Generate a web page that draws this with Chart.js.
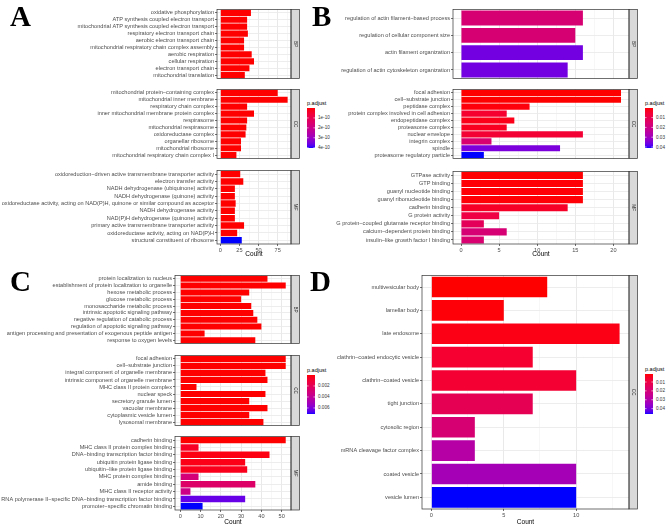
<!DOCTYPE html>
<html>
<head>
<meta charset="utf-8">
<script src="https://cdn.jsdelivr.net/npm/chart.js@4"></script>
<style>
  body { margin: 0; background: #fff; }
  #root { position: relative; width: 669px; height: 528px; overflow: hidden; font-family: 'Liberation Sans', Arial, sans-serif; }
  .tag { position: absolute; font-family: 'Liberation Serif', 'Times New Roman', serif; font-weight: bold; font-size: 29px; line-height: 29px; color: #000; }
  .lgt { position: absolute; font-size: 5.5px; line-height: 6px; color: #000; white-space: nowrap; }
  .lgl { position: absolute; font-size: 4.6px; line-height: 5px; color: #333; white-space: nowrap; }
</style>
</head>
<body>
<div id="root"></div>
<script>
// ---- data: panel A ----
const termsA_BP = ['oxidative phosphorylation', 'ATP synthesis coupled electron transport', 'mitochondrial ATP synthesis coupled electron transport', 'respiratory electron transport chain', 'aerobic electron transport chain', 'mitochondrial respiratory chain complex assembly', 'aerobic respiration', 'cellular respiration', 'electron transport chain', 'mitochondrial translation'];
const countA_BP = [40, 35, 35, 36, 31, 31, 41, 44, 38, 32];
const padjA_BP = [1e-20, 1e-20, 1e-20, 1e-20, 1e-20, 1e-20, 1e-20, 1e-20, 1e-20, 1e-20];
const termsA_CC = ['mitochondrial protein\u2212containing complex', 'mitochondrial inner membrane', 'respiratory chain complex', 'inner mitochondrial membrane protein complex', 'respirasome', 'mitochondrial respirasome', 'oxidoreductase complex', 'organellar ribosome', 'mitochondrial ribosome', 'mitochondrial respiratory chain complex I'];
const countA_CC = [75, 88, 35, 44, 35, 34, 33, 27, 27, 21];
const padjA_CC = [1e-20, 1e-20, 1e-20, 1e-20, 1e-20, 1e-20, 1e-20, 1e-20, 1e-20, 1e-20];
const termsA_MF = ['oxidoreduction\u2212driven active transmembrane transporter activity', 'electron transfer activity', 'NADH dehydrogenase (ubiquinone) activity', 'NADH dehydrogenase (quinone) activity', 'oxidoreductase activity, acting on NAD(P)H, quinone or similar compound as acceptor', 'NADH dehydrogenase activity', 'NAD(P)H dehydrogenase (quinone) activity', 'primary active transmembrane transporter activity', 'oxidoreductase activity, acting on NAD(P)H', 'structural constituent of ribosome'];
const countA_MF = [26, 30, 19, 19, 20, 19, 19, 31, 22, 28];
const padjA_MF = [1e-20, 1e-20, 1e-20, 1e-20, 1e-20, 1e-20, 1e-20, 1e-20, 1e-20, 4.03e-10];
const ticksA = [0, 25, 50, 75];
const legendA = [1e-10, 2e-10, 3e-10, 4e-10];

// ---- data: panel B ----
const termsB_BP = ['regulation of actin filament\u2212based process', 'regulation of cellular component size', 'actin filament organization', 'regulation of actin cytoskeleton organization'];
const countB_BP = [16, 15, 16, 14];
const padjB_BP = [0.0165, 0.0165, 0.036, 0.036];
const termsB_CC = ['focal adhesion', 'cell\u2212substrate junction', 'peptidase complex', 'protein complex involved in cell adhesion', 'endopeptidase complex', 'proteasome complex', 'nuclear envelope', 'integrin complex', 'spindle', 'proteasome regulatory particle'];
const countB_CC = [21, 21, 9, 6, 7, 6, 16, 4, 13, 3];
const padjB_CC = [0.0002, 0.0002, 0.001, 0.005, 0.002, 0.003, 0.006, 0.016, 0.035, 0.041];
const termsB_MF = ['GTPase activity', 'GTP binding', 'guanyl nucleotide binding', 'guanyl ribonucleotide binding', 'cadherin binding', 'G protein activity', 'G protein\u2212coupled glutamate receptor binding', 'calcium\u2212dependent protein binding', 'insulin\u2212like growth factor I binding'];
const countB_MF = [16, 16, 16, 16, 14, 5, 3, 6, 3];
const padjB_MF = [0.0003, 0.0005, 0.0005, 0.0005, 0.004, 0.008, 0.012, 0.017, 0.016];
const ticksB = [0, 5, 10, 15, 20];
const legendB = [0.01, 0.02, 0.03, 0.04];

// ---- data: panel C ----
const termsC_BP = ['protein localization to nucleus', 'establishment of protein localization to organelle', 'hexose metabolic process', 'glucose metabolic process', 'monosaccharide metabolic process', 'intrinsic apoptotic signaling pathway', 'negative regulation of catabolic process', 'regulation of apoptotic signaling pathway', 'antigen processing and presentation of exogenous peptide antigen', 'response to oxygen levels'];
const countC_BP = [43, 52, 34, 30, 35, 36, 38, 40, 12, 37];
const padjC_BP = [1e-6, 1e-6, 1e-6, 1e-6, 1e-6, 1e-6, 1e-6, 1e-6, 1e-6, 1e-6];
const termsC_CC = ['focal adhesion', 'cell\u2212substrate junction', 'integral component of organelle membrane', 'intrinsic component of organelle membrane', 'MHC class II protein complex', 'nuclear speck', 'secretory granule lumen', 'vacuolar membrane', 'cytoplasmic vesicle lumen', 'lysosomal membrane'];
const countC_CC = [52, 52, 42, 43, 8, 42, 34, 43, 34, 41];
const padjC_CC = [1e-6, 1e-6, 1e-6, 1e-6, 1e-6, 1e-6, 1e-6, 1e-6, 1e-6, 1e-6];
const termsC_MF = ['cadherin binding', 'MHC class II protein complex binding', 'DNA\u2212binding transcription factor binding', 'ubiquitin protein ligase binding', 'ubiquitin\u2212like protein ligase binding', 'MHC protein complex binding', 'amide binding', 'MHC class II receptor activity', 'RNA polymerase II\u2212specific DNA\u2212binding transcription factor binding', 'promoter\u2212specific chromatin binding'];
const countC_MF = [52, 9, 44, 32, 33, 9, 37, 5, 32, 11];
const padjC_MF = [1e-6, 0.0006, 0.0002, 0.0003, 0.0004, 0.003, 0.0025, 0.0035, 0.0064, 0.0071];
const ticksC = [0, 10, 20, 30, 40, 50];
const legendC = [0.002, 0.004, 0.006];

// ---- data: panel D ----
const termsD_CC = ['multivesicular body', 'lamellar body', 'late endosome', 'clathrin\u2212coated endocytic vesicle', 'clathrin\u2212coated vesicle', 'tight junction', 'cytosolic region', 'mRNA cleavage factor complex', 'coated vesicle', 'vesicle lumen'];
const countD_CC = [8, 5, 13, 7, 10, 7, 3, 3, 10, 10];
const padjD_CC = [0.001, 0.0015, 0.0028, 0.0064, 0.0069, 0.0132, 0.019, 0.029, 0.0325, 0.046];
const ticksD = [0, 5, 10];
const legendD = [0.01, 0.02, 0.03, 0.04];

const FONT = "'Liberation Sans', Arial, sans-serif";
Chart.defaults.font.family = FONT;
const root = document.getElementById('root');

// red -> blue in CIELAB, like ggplot's continuous fill scale
function toLin(c) { c /= 255; return c <= 0.04045 ? c / 12.92 : Math.pow((c + 0.055) / 1.055, 2.4); }
function fromLin(c) { c = c <= 0.0031308 ? 12.92 * c : 1.055 * Math.pow(c, 1 / 2.4) - 0.055; return Math.round(Math.max(0, Math.min(1, c)) * 255); }
function rgb2lab(rgb) {
    const [r, g, b] = rgb.map(toLin);
    const x = (0.4124 * r + 0.3576 * g + 0.1805 * b) / 0.95047;
    const y = 0.2126 * r + 0.7152 * g + 0.0722 * b;
    const z = (0.0193 * r + 0.1192 * g + 0.9505 * b) / 1.08883;
    const f = t => t > 0.008856 ? Math.cbrt(t) : 7.787 * t + 16 / 116;
    return [116 * f(y) - 16, 500 * (f(x) - f(y)), 200 * (f(y) - f(z))];
}
function lab2rgb([L, a, bb]) {
    const fy = (L + 16) / 116, fx = fy + a / 500, fz = fy - bb / 200;
    const fi = t => t * t * t > 0.008856 ? t * t * t : (t - 16 / 116) / 7.787;
    const x = 0.95047 * fi(fx), y = fi(fy), z = 1.08883 * fi(fz);
    const r = 3.2406 * x - 1.5372 * y - 0.4986 * z;
    const g = -0.9689 * x + 1.8758 * y + 0.0415 * z;
    const b = 0.0557 * x - 0.2040 * y + 1.0570 * z;
    return `rgb(${fromLin(r)},${fromLin(g)},${fromLin(b)})`;
}
const LAB_LO = rgb2lab([255, 0, 0]);
const LAB_HI = rgb2lab([0, 0, 255]);
function makeScale(lists) {
    const all = lists.flat();
    const min = Math.min(...all), max = Math.max(...all);
    const fn = v => {
        const t = Math.max(0, Math.min(1, (v - min) / (max - min)));
        return lab2rgb(LAB_LO.map((c, i) => c + (LAB_HI[i] - c) * t));
    };
    fn.min = min; fn.max = max;
    return fn;
}

const framePlugin = {
    id: 'frame',
    afterDraw(chart, args, opts) {
        const { ctx, chartArea: ca } = chart;
        ctx.save();
        ctx.fillStyle = '#d9d9d9';
        ctx.strokeStyle = '#333';
        ctx.lineWidth = 0.7;
        ctx.fillRect(ca.right, ca.top, opts.stripW, ca.height);
        ctx.strokeRect(ca.right, ca.top, opts.stripW, ca.height);
        ctx.strokeRect(ca.left, ca.top, ca.width, ca.height);
        ctx.translate(ca.right + opts.stripW / 2, ca.top + ca.height / 2);
        ctx.rotate(Math.PI / 2);
        ctx.fillStyle = '#1a1a1a';
        ctx.font = '4.6px ' + FONT;
        ctx.textAlign = 'center';
        ctx.textBaseline = 'middle';
        ctx.fillText(opts.label, 0, 0);
        ctx.restore();
    }
};

function facetChart(p, f, top, bottom, isLast, color) {
    const axisH = isLast ? p.axisH : 0;
    const w = Math.ceil(p.stripRight) + 1 - p.left;
    const h = Math.round(bottom - top) + axisH;
    const cv = document.createElement('canvas');
    cv.width = w; cv.height = h;
    cv.style.cssText = `position:absolute;left:${p.left}px;top:${top}px;width:${w}px;height:${h}px`;
    root.appendChild(cv);

    const n = f.terms.length;
    const step = p.ticks[1] - p.ticks[0];
    const lo = -0.05 * p.xMax, hi = 1.05 * p.xMax;
    const minor = [];
    for (let v = step / 2; v < hi; v += step) minor.push(v);
    const allTicks = p.ticks.concat(minor).filter(v => v >= lo && v <= hi);
    const isMajor = v => p.ticks.includes(v);

    new Chart(cv, {
        type: 'bar',
        data: {
            labels: f.terms,
            datasets: [{
                data: f.counts,
                backgroundColor: f.padj.map(color),
                barPercentage: 0.9 * n / (n + 0.2),
                categoryPercentage: 1
            }]
        },
        options: {
            indexAxis: 'y',
            responsive: false,
            animation: false,
            events: [],
            layout: { padding: { left: 0, top: 0, bottom: 0, right: w - (p.plotRight - p.left) } },
            plugins: {
                legend: { display: false },
                tooltip: { enabled: false },
                frame: { stripW: p.stripRight - p.plotRight, label: f.strip }
            },
            scales: {
                x: {
                    type: 'linear', min: lo, max: hi,
                    afterBuildTicks: s => { s.ticks = allTicks.map(v => ({ value: v })); },
                    afterFit: s => { s.height = axisH; },
                    ticks: {
                        display: isLast, autoSkip: false, maxRotation: 0, padding: 1,
                        font: { size: 5.6 }, color: '#4d4d4d',
                        callback: v => isMajor(v) ? String(v) : ''
                    },
                    grid: {
                        drawTicks: isLast, tickLength: 2,
                        color: c => isMajor(c.tick.value) ? '#e6e6e6' : '#f2f2f2',
                        lineWidth: c => isMajor(c.tick.value) ? 0.9 : 0.6,
                        tickColor: c => isMajor(c.tick.value) ? '#333' : 'rgba(0,0,0,0)',
                        tickWidth: 0.7
                    },
                    border: { display: false },
                    title: { display: isLast, text: 'Count', font: { size: 6.5 }, color: '#000', padding: { top: 0, bottom: 0 } }
                },
                y: {
                    afterFit: s => { s.width = p.plotLeft - p.left; },
                    ticks: { autoSkip: false, padding: 1, font: { size: 5.6 }, color: '#4d4d4d' },
                    grid: { offset: false, color: '#ebebeb', lineWidth: 0.9, tickLength: 2, tickColor: '#333', tickWidth: 0.7 },
                    border: { display: false }
                }
            }
        },
        plugins: [framePlugin]
    });
}

function legend(x, barTop, barW, barH, vals, fmt, scale) {
    const t = document.createElement('div');
    t.className = 'lgt';
    t.style.left = x + 'px';
    t.style.top = (barTop - 8) + 'px';
    t.textContent = 'p.adjust';
    root.appendChild(t);

    const cv = document.createElement('canvas');
    cv.width = barW; cv.height = barH;
    cv.style.cssText = `position:absolute;left:${x}px;top:${barTop}px;width:${barW}px;height:${barH}px`;
    root.appendChild(cv);
    const ctx = cv.getContext('2d');
    for (let i = 0; i < barH; i++) {
        ctx.fillStyle = scale(scale.min + (scale.max - scale.min) * (i + 0.5) / barH);
        ctx.fillRect(0, i, barW, 1);
    }
    ctx.strokeStyle = '#fff';
    ctx.lineWidth = 0.6;
    vals.forEach(v => {
        const y = (v - scale.min) / (scale.max - scale.min) * barH;
        ctx.beginPath(); ctx.moveTo(0, y); ctx.lineTo(1.6, y); ctx.moveTo(barW - 1.6, y); ctx.lineTo(barW, y); ctx.stroke();
        const l = document.createElement('div');
        l.className = 'lgl';
        l.style.left = (x + barW + 3) + 'px';
        l.style.top = (barTop + y - 2.5) + 'px';
        l.textContent = fmt(v);
        root.appendChild(l);
    });
}

function tag(text, x, y) {
    const d = document.createElement('div');
    d.className = 'tag';
    d.style.left = x + 'px';
    d.style.top = y + 'px';
    d.textContent = text;
    root.appendChild(d);
}

function panel(p) {
    const scale = makeScale(p.facets.map(f => f.padj));
    p.xMax = Math.max(...p.facets.flatMap(f => f.counts));
    p.facets.forEach((f, i) => {
        const [top, bottom] = p.rows[i];
        facetChart(p, f, top, bottom, i === p.facets.length - 1, scale);
    });
    legend(p.legend[0], p.legend[1], 8, p.legend[2], p.legendVals, p.fmt, scale);
}

panel({
    left: 0, plotLeft: 217, plotRight: 291, stripRight: 299.5, axisH: 14, ticks: ticksA,
    rows: [[5, 83], [85, 163], [166, 244]],
    facets: [
        { strip: 'BP', terms: termsA_BP, counts: countA_BP, padj: padjA_BP },
        { strip: 'CC', terms: termsA_CC, counts: countA_CC, padj: padjA_CC },
        { strip: 'MF', terms: termsA_MF, counts: countA_MF, padj: padjA_MF }
    ],
    legend: [307, 108, 40], legendVals: legendA, fmt: v => Math.round(v * 1e10) + 'e-10'
});
panel({
    left: 335, plotLeft: 453, plotRight: 629, stripRight: 637.5, axisH: 14, ticks: ticksB,
    rows: [[5, 83], [85, 163], [167, 244]],
    facets: [
        { strip: 'BP', terms: termsB_BP, counts: countB_BP, padj: padjB_BP },
        { strip: 'CC', terms: termsB_CC, counts: countB_CC, padj: padjB_CC },
        { strip: 'MF', terms: termsB_MF, counts: countB_MF, padj: padjB_MF }
    ],
    legend: [645, 108, 40], legendVals: legendB, fmt: v => v.toFixed(2)
});
panel({
    left: 0, plotLeft: 175, plotRight: 291, stripRight: 299.5, axisH: 16, ticks: ticksC,
    rows: [[271, 348], [351, 430], [432, 510]],
    facets: [
        { strip: 'BP', terms: termsC_BP, counts: countC_BP, padj: padjC_BP },
        { strip: 'CC', terms: termsC_CC, counts: countC_CC, padj: padjC_CC },
        { strip: 'MF', terms: termsC_MF, counts: countC_MF, padj: padjC_MF }
    ],
    legend: [307, 375, 39], legendVals: legendC, fmt: v => v.toFixed(3)
});
panel({
    left: 335, plotLeft: 422, plotRight: 629, stripRight: 637.5, axisH: 17, ticks: ticksD,
    rows: [[271, 509]],
    facets: [
        { strip: 'CC', terms: termsD_CC, counts: countD_CC, padj: padjD_CC }
    ],
    legend: [645, 374, 40], legendVals: legendD, fmt: v => v.toFixed(2)
});

tag('A', 10, 2);
tag('B', 312, 2);
tag('C', 10, 267);
tag('D', 310, 267);
</script>
</body>
</html>
